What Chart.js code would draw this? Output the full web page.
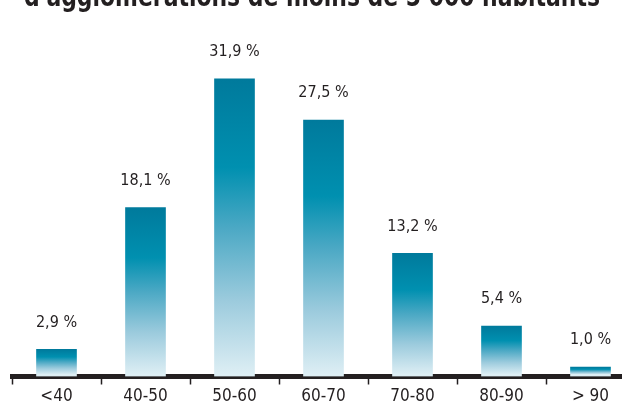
<!DOCTYPE html>
<html>
<head>
<meta charset="utf-8">
<script src="https://cdn.jsdelivr.net/npm/chart.js@4"></script>
<style>
  html, body { margin: 0; padding: 0; background: #fff; overflow: hidden; }
  #wrap { position: relative; width: 640px; height: 402px; }
</style>
</head>
<body>
<div id="wrap"><canvas id="myChart"></canvas></div>
<script>
// data
const titleText = "d'agglomérations de moins de 5 000 habitants"
const categories = ['<40', '40-50', '50-60', '60-70', '70-80', '80-90', '> 90']
const shares = [2.9, 18.1, 31.9, 27.5, 13.2, 5.4, 1.0]
const valueLabels = ['2,9 %', '18,1 %', '31,9 %', '27,5 %', '13,2 %', '5,4 %', '1,0 %']

const ink = '#231f20'
const narrow = '"Liberation Sans Narrow", "DejaVu Sans Condensed", "Liberation Sans", sans-serif'

// gradient for each bar, dark at top, pale at bottom
function barGradient(context) {
    const chart = context.chart
    const yScale = chart.scales.y
    if (!yScale || context.dataIndex === undefined) return '#0088aa'
    const top = yScale.getPixelForValue(shares[context.dataIndex])
    const bottom = yScale.getPixelForValue(0) - 2
    if (!isFinite(top) || !isFinite(bottom) || top >= bottom) return '#0088aa'
    const g = chart.ctx.createLinearGradient(0, top, 0, bottom)
    g.addColorStop(0, '#007a9c')
    g.addColorStop(0.3, '#0090b0')
    g.addColorStop(0.5, '#4aa8c4')
    g.addColorStop(0.75, '#9ccbdd')
    g.addColorStop(1, '#ddeef4')
    return g
}

// labels above bars + cut-off title
const labelPlugin = {
    id: 'labelPlugin',
    afterDraw(chart) {
        const ctx = chart.ctx
        ctx.save()
        ctx.fillStyle = ink
        ctx.font = '16px ' + narrow
        ctx.textAlign = 'center'
        ctx.textBaseline = 'middle'
        chart.getDatasetMeta(0).data.forEach((bar, i) => {
            ctx.fillText(valueLabels[i], bar.x, bar.y - 27)
        })
        ctx.font = 'bold 28px ' + narrow
        ctx.textAlign = 'left'
        ctx.textBaseline = 'alphabetic'
        ctx.fillText(titleText, 24, 6, 576)
        ctx.restore()
    }
}

const data = {
    labels: categories,
    datasets: [{
        data: shares,
        backgroundColor: barGradient,
        borderWidth: 0,
        barThickness: 40
    }]
}

const config = {
    type: 'bar',
    data: data,
    plugins: [labelPlugin],
    options: {
        responsive: false,
        animation: false,
        layout: { padding: { left: 12, right: 5, top: 50, bottom: 0 } },
        plugins: { legend: { display: false }, tooltip: { enabled: false }, title: { display: false } },
        scales: {
            y: { display: false, min: 0, max: 35 },
            x: {
                offset: true,
                afterFit(scale) { scale.height = 25.5 },
                border: { display: true, color: ink, width: 5 },
                grid: {
                    offset: true,
                    drawOnChartArea: false,
                    drawTicks: true,
                    tickLength: 8,
                    tickWidth: 1.5,
                    tickColor: ink
                },
                ticks: { color: ink, font: { family: narrow, size: 17 }, padding: 2 }
            }
        }
    }
}

const canvas = document.getElementById('myChart')
canvas.width = 640
canvas.height = 402
const myChart = new Chart(canvas, config)
</script>
</body>
</html>
